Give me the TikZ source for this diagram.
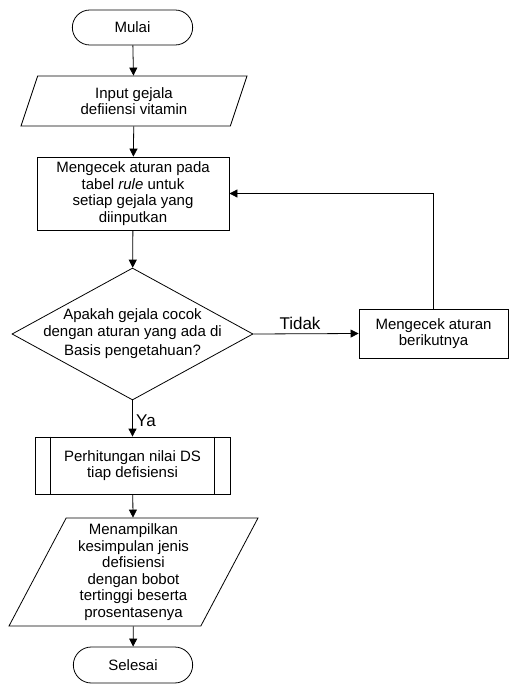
\documentclass[tikz,border=0pt]{standalone}
\usepackage{fontspec}
\setmainfont{Liberation Sans}
\usetikzlibrary{shapes.geometric,shapes.misc,arrows.meta}

\begin{document}
\begin{tikzpicture}[x=1pt,y=-1pt,line width=0.8pt,
    >={Triangle[length=8pt,width=8pt]},
    every node/.style={font=\fontsize{15}{16.5}\selectfont,align=center},
    terminal/.style={draw,rounded rectangle,minimum width=127pt,minimum height=35pt},
    proc/.style={draw,rectangle,minimum width=192pt,minimum height=73pt},
    decision/.style={draw,diamond,aspect=1.83,inner sep=-6pt,minimum width=241pt,minimum height=132pt},
    lbl/.style={font=\fontsize{17}{18}\selectfont}]
  \useasboundingbox (0,0) rectangle (510,684);
  % main column
  \node[terminal] (mulai) at (132.5,27.5) {Mulai};
  \node[draw,trapezium,trapezium left angle=64,trapezium right angle=116,
    trapezium stretches body,minimum width=226pt,minimum height=50pt]
    (input) at (134,101) {Input gejala\\defiiensi vitamin};
  \node[proc] (cekrule) at (133,193.5)
    {Mengecek aturan pada\\tabel \textit{rule} untuk\\setiap gejala yang\\diinputkan};
  \node[decision] (cocok) at (132.5,334)
    {Apakah gejala cocok\\dengan aturan yang ada di\\[3pt]Basis pengetahuan?};
  \node[draw,minimum width=149pt,minimum height=49pt] (berikut) at (433.5,333.5)
    {Mengecek aturan\\berikutnya};
  \node[draw,minimum width=195pt,minimum height=57pt] (nilaids) at (132.5,465.5)
    {Perhitungan nilai DS\\tiap defisiensi};
  \draw ([xshift=16pt]nilaids.north west) -- ([xshift=16pt]nilaids.south west);
  \draw ([xshift=-16pt]nilaids.north east) -- ([xshift=-16pt]nilaids.south east);
  \node[draw,trapezium,trapezium left angle=61,trapezium right angle=119,
    trapezium stretches body,minimum width=249pt,minimum height=108pt]
    (hasil) at (133.5,572) {Menampilkan\\kesimpulan jenis\\defisiensi\\dengan bobot\\tertinggi beserta\\prosentasenya};
  \node[terminal,minimum width=126pt,minimum height=36pt] (selesai) at (133,665) {Selesai};
  % arrows
  \draw[->] (mulai) -- (input);
  \draw[->] (input) -- (cekrule);
  \draw[->] (cekrule) -- (cocok);
  \draw[->] (cocok.east) -- node[lbl,above,xshift=-6pt] {Tidak} (berikut.west);
  \draw[->] (berikut.north) |- (cekrule.east);
  \draw[->] (cocok.south) -- node[lbl,right,yshift=-2pt] {Ya} (nilaids.north);
  \draw[->] (nilaids) -- (hasil);
  \draw[->] (hasil) -- (selesai);
\end{tikzpicture}
\end{document}
